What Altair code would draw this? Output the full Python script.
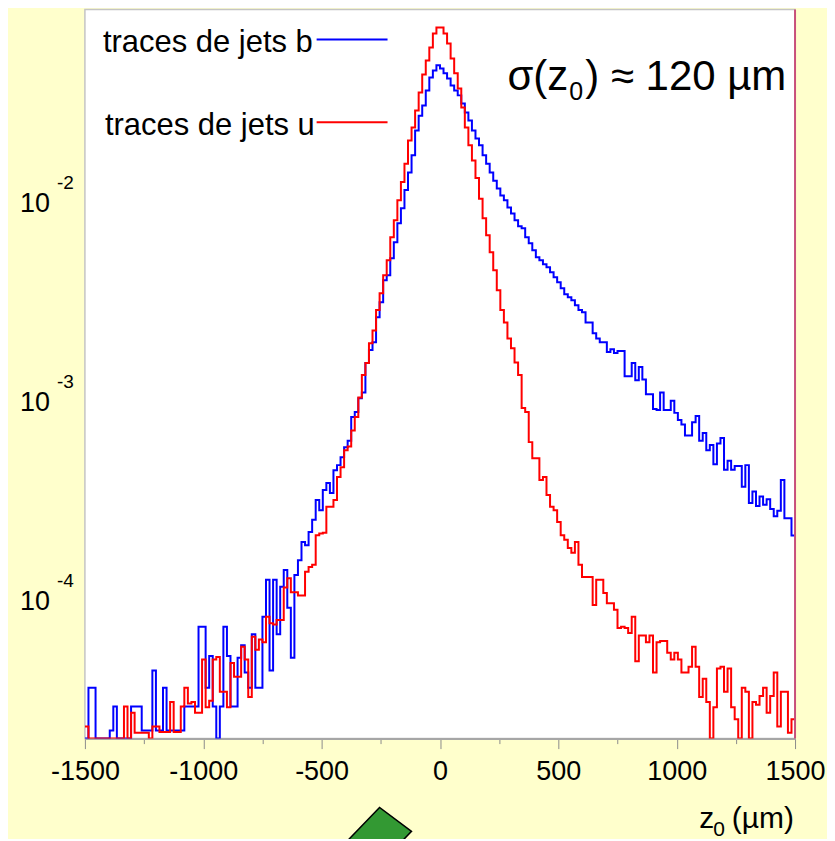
import altair as alt
import pandas as pd

# ---------------- data ----------------
Z_START = -1500          # µm, left edge of first bin
BIN_WIDTH = 15           # µm
series_names = ["traces de jets b", "traces de jets u"]
series_colors = ["#0000FF", "#FF0000"]

b_jets = [
    2e-5, 3.6e-5, 3.6e-5, 2e-5, 2e-5, 2e-5, 2e-5, 2.2e-5, 2.9e-5, 2e-5,
    2e-5, 2e-5, 2e-5, 2.9e-5, 2.9e-5, 2.9e-5, 2.2e-5, 2.2e-5, 2.2e-5, 4.4e-5,
    2.2e-5, 2.2e-5, 3.6e-5, 2.2e-5, 2.2e-5, 2.2e-5, 2.2e-5, 2.2e-5, 2.9e-5, 2.9e-5,
    2.9e-5, 2.9e-5, 7.3e-5, 7.3e-5, 3.6e-5, 5.2e-5, 2.9e-5, 2e-5, 2.9e-5, 7.3e-5,
    5.2e-5, 2.9e-5, 2.9e-5, 5.1e-5, 5.9e-5, 4.3e-5, 3.6e-5, 6.7e-5, 3.6e-5, 3.6e-5,
    8.2e-5, 1.26e-4, 4.4e-5, 1.26e-4, 6.7e-5, 1.16e-4, 1.41e-4, 9.1e-5, 5.1e-5, 1.33e-4,
    1.58e-4, 1.95e-4, 1.88e-4, 2.19e-4, 2.52e-4, 3.17e-4, 2.82e-4, 3.56e-4, 3.86e-4, 3.44e-4,
    4.48e-4, 4.75e-4, 5.2e-4, 5.85e-4, 6.3e-4, 8.3e-4, 8.8e-4, 1.03e-3, 1.10e-3, 1.55e-3,
    1.80e-3, 1.97e-3, 2.63e-3, 3.13e-3, 4.04e-3, 4.28e-3, 5.21e-3, 6.27e-3, 7.82e-3, 9.3e-3,
    1.15e-2, 1.41e-2, 1.72e-2, 2.29e-2, 2.72e-2, 3.06e-2, 3.64e-2, 4.23e-2, 4.59e-2, 4.87e-2,
    4.70e-2, 4.44e-2, 4.18e-2, 3.86e-2, 3.64e-2, 3.44e-2, 3.13e-2, 2.82e-2, 2.57e-2, 2.29e-2,
    2.09e-2, 1.93e-2, 1.72e-2, 1.56e-2, 1.41e-2, 1.28e-2, 1.17e-2, 1.08e-2, 1.02e-2, 9.4e-3,
    8.77e-3, 8.09e-3, 7.55e-3, 7.38e-3, 6.65e-3, 6.2e-3, 5.72e-3, 5.27e-3, 5.1e-3, 4.87e-3,
    4.7e-3, 4.44e-3, 4.18e-3, 3.95e-3, 3.68e-3, 3.44e-3, 3.32e-3, 3.21e-3, 3.03e-3, 2.86e-3,
    2.79e-3, 2.48e-3, 2.48e-3, 2.19e-3, 2.06e-3, 1.97e-3, 1.97e-3, 1.76e-3, 1.82e-3, 1.74e-3,
    1.78e-3, 1.78e-3, 1.33e-3, 1.33e-3, 1.55e-3, 1.27e-3, 1.48e-3, 1.28e-3, 1.08e-3, 1.08e-3,
    9.1e-4, 9.0e-4, 1.10e-3, 9.0e-4, 9.0e-4, 1.0e-3, 8.7e-4, 8.0e-4, 7.6e-4, 6.7e-4,
    6.7e-4, 7.8e-4, 8.4e-4, 6.3e-4, 6.9e-4, 5.65e-4, 6.0e-4, 4.8e-4, 6.1e-4, 6.5e-4,
    4.5e-4, 5.0e-4, 4.5e-4, 4.7e-4, 4.7e-4, 3.7e-4, 4.75e-4, 3.06e-4, 3.5e-4, 2.96e-4,
    3.3e-4, 3.0e-4, 3.2e-4, 2.86e-4, 2.63e-4, 2.8e-4, 4.0e-4, 2.57e-4, 2.57e-4, 2.1e-4,
]

u_jets = [
    2.3e-5, 2e-5, 2e-5, 2e-5, 2e-5, 2e-5, 2e-5, 2e-5, 2e-5, 2e-5,
    2e-5, 2.9e-5, 2e-5, 2.7e-5, 2.14e-5, 2.14e-5, 2.14e-5, 2.14e-5, 2e-5, 2.3e-5,
    2.3e-5, 2.16e-5, 2.16e-5, 2.16e-5, 3.06e-5, 2.16e-5, 2.16e-5, 2.9e-5, 3.6e-5, 3.0e-5,
    3.06e-5, 2.7e-5, 2.7e-5, 5.0e-5, 2.88e-5, 3.1e-5, 5.0e-5, 5.15e-5, 3.44e-5, 3.44e-5,
    2.88e-5, 4.8e-5, 4.1e-5, 4.1e-5, 5.8e-5, 5.0e-5, 3.24e-5, 6.5e-5, 5.6e-5, 6.3e-5,
    6.1e-5, 8.2e-5, 7.6e-5, 7.5e-5, 7.9e-5, 7.9e-5, 1.15e-4, 1.28e-4, 1.09e-4, 1.09e-4,
    1.05e-4, 1.05e-4, 1.38e-4, 1.46e-4, 1.5e-4, 2.11e-4, 2.15e-4, 2.17e-4, 2.93e-4, 2.93e-4,
    3.17e-4, 4.14e-4, 4.64e-4, 5.65e-4, 5.9e-4, 7.1e-4, 8.3e-4, 1.04e-3, 1.35e-3, 1.55e-3,
    1.95e-3, 2.26e-3, 2.86e-3, 3.48e-3, 4.28e-3, 5.1e-3, 6.65e-3, 8.09e-3, 1.02e-2, 1.26e-2,
    1.56e-2, 2.04e-2, 2.37e-2, 2.89e-2, 3.56e-2, 4.38e-2, 5.15e-2, 5.99e-2, 7.04e-2, 7.55e-2,
    7.55e-2, 7.04e-2, 6.27e-2, 5.27e-2, 4.44e-2, 3.73e-2, 2.99e-2, 2.37e-2, 1.93e-2, 1.62e-2,
    1.32e-2, 1.04e-2, 8.28e-3, 6.8e-3, 5.59e-3, 4.54e-3, 3.6e-3, 2.86e-3, 2.48e-3, 2.06e-3,
    1.84e-3, 1.56e-3, 1.35e-3, 9.2e-4, 8.8e-4, 6.2e-4, 5.15e-4, 5.15e-4, 4.0e-4, 4.14e-4,
    3.36e-4, 2.93e-4, 2.82e-4, 2.46e-4, 2.11e-4, 2.0e-4, 1.82e-4, 1.72e-4, 1.95e-4, 1.5e-4,
    1.3e-4, 1.3e-4, 1.3e-4, 9.4e-5, 1.26e-4, 1.26e-4, 1.08e-4, 9.6e-5, 9.6e-5, 8.9e-5,
    7.2e-5, 7.3e-5, 7.2e-5, 6.8e-5, 8.2e-5, 4.9e-5, 6.6e-5, 6.6e-5, 6.1e-5, 6.6e-5,
    4.3e-5, 6.1e-5, 6.2e-5, 6.2e-5, 5.4e-5, 5.0e-5, 5.4e-5, 5.0e-5, 4.3e-5, 4.3e-5,
    4.6e-5, 5.8e-5, 4.6e-5, 3.24e-5, 4.0e-5, 3.06e-5, 2e-5, 2.88e-5, 4.5e-5, 4.6e-5,
    3.44e-5, 4.5e-5, 2.88e-5, 2.5e-5, 2e-5, 3.6e-5, 3.44e-5, 2e-5, 3.06e-5, 2.96e-5,
    3.28e-5, 3.6e-5, 2.7e-5, 3.28e-5, 4.3e-5, 2.3e-5, 3.44e-5, 3.44e-5, 2.14e-5, 2.5e-5,
]

x_tick_values = list(range(-1500, 1501, 250))
y_decades = [1e-4, 1e-3, 1e-2]
y_decade_base = ["10", "10", "10"]
y_decade_exponent = ["-4", "-3", "-2"]
y_tick_values = [m * d for d in [1e-5, 1e-4, 1e-3, 1e-2] for m in range(1, 10)
                 if 2e-5 <= m * d <= 0.093]
annotation_main = "σ(z"
annotation_sub = "0"
annotation_rest = ") ≈ 120 µm"
x_title_main = "z"
x_title_sub = "0"
x_title_rest = "(µm)"

# ---------------- build step table ----------------
def step_rows(values, name):
    rows = [{"z": Z_START + i * BIN_WIDTH, "v": v, "s": name} for i, v in enumerate(values)]
    rows.append({"z": Z_START + len(values) * BIN_WIDTH, "v": values[-1], "s": name})
    return rows

df = pd.DataFrame(step_rows(b_jets, series_names[0]) + step_rows(u_jets, series_names[1]))

W, H = 711, 730
FONT = "Liberation Sans"

xscale = alt.Scale(domain=[-1500, 1500], nice=False, zero=False)
yscale = alt.Scale(type="log", domain=[2e-5, 0.093], nice=False)

x_axis = alt.Axis(
    values=x_tick_values,
    labelExpr="datum.value % 500 == 0 ? '' + datum.value : ''",
    tickSize={"condition": {"test": "datum.value % 500 == 0", "value": 10}, "value": 5},
    tickColor="#8C8C8C", tickWidth=1,
    domainColor="#A6A6A6", domainWidth=2,
    labelFont=FONT, labelFontSize=27, labelColor="black",
    labelPadding=10, labelFlush=False, labelOverlap=False,
    grid=False, title=None,
)
y_axis = alt.Axis(
    values=y_tick_values,
    labels=False,
    tickSize={"condition": {"test": "abs(log(datum.value)/LN10 - round(log(datum.value)/LN10)) < 0.000001",
                            "value": 9}, "value": 5},
    tickColor="#8C8C8C", tickWidth=1,
    domainColor="#F05A5A", domainWidth=2,
    grid=False, title=None,
)

def hist(name, color):
    return alt.Chart(df).transform_filter(alt.datum.s == name).mark_line(
        interpolate="step-after", strokeWidth=2, clip=True, color=color
    ).encode(
        x=alt.X("z:Q", scale=xscale, axis=x_axis),
        y=alt.Y("v:Q", scale=yscale, axis=y_axis),
    )

blue = hist(series_names[0], series_colors[0])
red = hist(series_names[1], series_colors[1])

one = pd.DataFrame({"a": [0]})
right_border = alt.Chart(one).mark_rule(color="#C8507A", strokeWidth=2).encode(
    x=alt.datum(1500), y=alt.value(0), y2=alt.value(H)
)

dec_df = pd.DataFrame({"d": y_decades, "base": y_decade_base, "exp": y_decade_exponent})
dec_base = alt.Chart(dec_df).mark_text(
    align="right", baseline="alphabetic", font=FONT, fontSize=27, dy=10, color="black"
).encode(y=alt.Y("d:Q", scale=yscale, axis=None), x=alt.value(-35), text="base:N")
dec_exp = alt.Chart(dec_df).mark_text(
    align="left", baseline="alphabetic", font=FONT, fontSize=19, dy=-13, color="black"
).encode(y=alt.Y("d:Q", scale=yscale, axis=None), x=alt.value(-28), text="exp:N")

def label(text, x, y, size, align="left"):
    return alt.Chart(pd.DataFrame({"t": [text]})).mark_text(
        align=align, baseline="alphabetic", font=FONT, fontSize=size, color="black"
    ).encode(text="t:N", x=alt.value(x), y=alt.value(y))

leg1 = label(series_names[0], 18, 42.7, 31)
leg2 = label(series_names[1], 20, 126, 31)
leg_line1 = alt.Chart(one).mark_rule(color=series_colors[0], strokeWidth=2).encode(
    x=alt.value(232), x2=alt.value(303), y=alt.value(30))
leg_line2 = alt.Chart(one).mark_rule(color=series_colors[1], strokeWidth=2).encode(
    x=alt.value(232), x2=alt.value(303), y=alt.value(113))

ann1 = label(annotation_main, 423, 80.3, 42)
ann2 = label(annotation_sub, 485, 91, 25)
ann3 = label(annotation_rest, 501, 80.3, 42)

xt1 = label(x_title_main, 615, 819, 30)
xt2 = label(x_title_sub, 629, 828, 21)
xt3 = label(x_title_rest, 710, 819, 30, align="right")

# decorative green arrow head partly visible under the plot
arrow = alt.Chart(one).mark_point(
    shape="M -1 0.52 L 0 -0.52 L 1 0.23 L 0.72 0.52 Z",
    size=4096, filled=True, fill="#339933", stroke="black", strokeWidth=1.5, opacity=1,
).encode(x=alt.value(295), y=alt.value(815.5))

chart = alt.layer(
    blue, red, right_border, dec_base, dec_exp,
    leg1, leg2, leg_line1, leg_line2, ann1, ann2, ann3, xt1, xt2, xt3, arrow,
).properties(
    width=W, height=H,
    autosize=alt.AutoSizeParams(type="none"),
    padding={"left": 77, "top": 1, "right": 32, "bottom": 100},
    background="#FFFFCC",
).configure_view(
    stroke="#C4C4C4", strokeWidth=1.5, fill="white"
)

chart.save("out.html", embed_options={"renderer": "svg", "actions": False})
